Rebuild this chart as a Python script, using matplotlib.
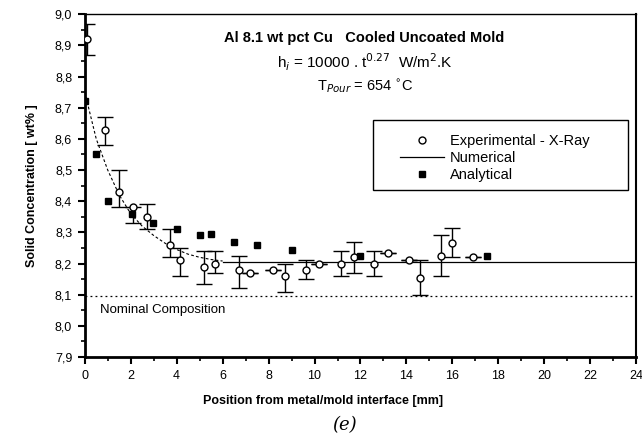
import matplotlib

matplotlib.use("Agg")
import matplotlib.pyplot as plt
from matplotlib.patches import Rectangle
from matplotlib.ticker import MultipleLocator, FuncFormatter

# Experimental (X-ray) measurements with error bars
exp_x = [0.1, 0.9, 1.5, 2.1, 2.7, 3.7, 4.15, 5.2, 5.65, 6.7, 7.2, 8.2,
         8.7, 9.65, 10.2, 11.15, 11.7, 12.6, 13.2, 14.1, 14.6, 15.5, 16.0, 16.9]
exp_y = [8.92, 8.63, 8.43, 8.38, 8.35, 8.26, 8.21, 8.19, 8.20, 8.18, 8.17, 8.18,
         8.16, 8.18, 8.20, 8.20, 8.22, 8.20, 8.235, 8.21, 8.155, 8.225, 8.267, 8.22]
exp_lo = [8.87, 8.58, 8.38, 8.33, 8.31, 8.22, 8.16, 8.135, 8.17, 8.12, 8.17, 8.18,
          8.11, 8.15, 8.20, 8.16, 8.17, 8.16, 8.235, 8.21, 8.10, 8.16, 8.22, 8.22]
exp_hi = [8.97, 8.67, 8.50, 8.38, 8.39, 8.31, 8.25, 8.24, 8.24, 8.225, 8.17, 8.18,
          8.20, 8.21, 8.20, 8.24, 8.27, 8.24, 8.235, 8.21, 8.21, 8.29, 8.315, 8.22]

# Analytical solution
ana_x = [0.0, 0.5, 1.0, 2.05, 2.95, 4.0, 5.0, 5.5, 6.5, 7.5, 9.0, 12.0, 17.5]
ana_y = [8.72, 8.55, 8.40, 8.36, 8.33, 8.31, 8.29, 8.295, 8.27, 8.26, 8.245, 8.225, 8.225]

# Numerical solution: dashed near the mold wall, solid further in
num_dash_x = [0.0, 0.5, 1.0, 1.5, 2.0, 2.5, 3.0, 3.5, 4.0, 4.5, 5.0, 5.5, 6.0]
num_dash_y = [8.75, 8.60, 8.50, 8.42, 8.36, 8.32, 8.29, 8.265, 8.245, 8.23, 8.22, 8.213, 8.208]
num_solid_x = [6.0, 24.0]
num_solid_y = [8.205, 8.205]

nominal = 8.095

plt.rcParams["font.family"] = ["Liberation Sans", "DejaVu Sans"]

fig = plt.figure(figsize=(6.42, 4.43), dpi=100)
ax = fig.add_axes([0.132, 0.194, 0.859, 0.774])

ax.plot(num_dash_x, num_dash_y, color="black", lw=0.8, ls=(0, (2.5, 2)))
num_line, = ax.plot(num_solid_x, num_solid_y, color="black", lw=0.9)
ax.axhline(nominal, color="black", lw=0.9, ls=(0, (1.5, 2.5)))

lower = [y - lo for y, lo in zip(exp_y, exp_lo)]
upper = [hi - y for y, hi in zip(exp_y, exp_hi)]
ax.errorbar(exp_x, exp_y, yerr=[lower, upper], fmt="none", ecolor="black",
            elinewidth=1.0, capsize=6, capthick=1.0, zorder=3)
exp_pts, = ax.plot(exp_x, exp_y, "o", ms=5, mfc="white", mec="black", mew=1.0,
                   ls="none", zorder=4)
ana_pts, = ax.plot(ana_x, ana_y, "s", ms=5, mfc="black", mec="black",
                   ls="none", zorder=4)

ax.set_xlim(0, 24)
ax.set_ylim(7.9, 9.0)
ax.xaxis.set_major_locator(MultipleLocator(2))
ax.xaxis.set_minor_locator(MultipleLocator(1))
ax.yaxis.set_major_locator(MultipleLocator(0.1))
ax.yaxis.set_minor_locator(MultipleLocator(0.05))
ax.yaxis.set_major_formatter(FuncFormatter(lambda v, p: f"{v:.1f}".replace(".", ",")))
ax.tick_params(which="major", direction="out", length=5, width=1.5, labelsize=9, pad=4)
ax.tick_params(which="minor", direction="out", length=3, width=1.2)
ax.tick_params(top=False, right=False)
for side, w in [("left", 2.0), ("bottom", 2.0), ("right", 1.5), ("top", 1.0)]:
    ax.spines[side].set_linewidth(w)

ax.set_xlabel("Position from metal/mold interface [mm]", fontsize=9,
              fontweight="bold")
ax.xaxis.set_label_coords(0.432, -0.112)
ax.set_ylabel("Solid Concentration [ wt% ]", fontsize=9,
              fontweight="bold", labelpad=12)

ax.text(12.15, 8.923, "Al 8.1 wt pct Cu   Cooled Uncoated Mold", fontsize=10.5,
        fontweight="bold", ha="center", va="center")
ax.text(12.2, 8.846, r"h$_i$ = 10000 . t$^{0.27}$  W/m$^2$.K", fontsize=11,
        ha="center", va="center")
ax.text(12.2, 8.77, r"T$_{Pour}$ = 654 $^{\circ}$C", fontsize=10.5,
        ha="center", va="center")
ax.text(0.65, 8.05, "Nominal Composition", fontsize=9.5, ha="left", va="center")

# legend frame drawn separately so the padding can be wider than tall
ax.add_patch(Rectangle((0.523, 0.487), 0.462, 0.204, transform=ax.transAxes,
                       fill=False, edgecolor="black", lw=1.0, zorder=5))
ax.legend([exp_pts, num_line, ana_pts],
          ["Experimental - X-Ray", "Numerical", "Analytical"],
          loc="center left", bbox_to_anchor=(0.572, 0.58), fontsize=10.5,
          frameon=False, handlelength=3.0, handletextpad=0.4,
          borderpad=0, borderaxespad=0, labelspacing=0.2)

fig.text(0.537, 0.04, "(e)", fontsize=13, family="DejaVu Serif",
         style="italic", ha="center", va="center")

fig.savefig("out.png", dpi=100)
